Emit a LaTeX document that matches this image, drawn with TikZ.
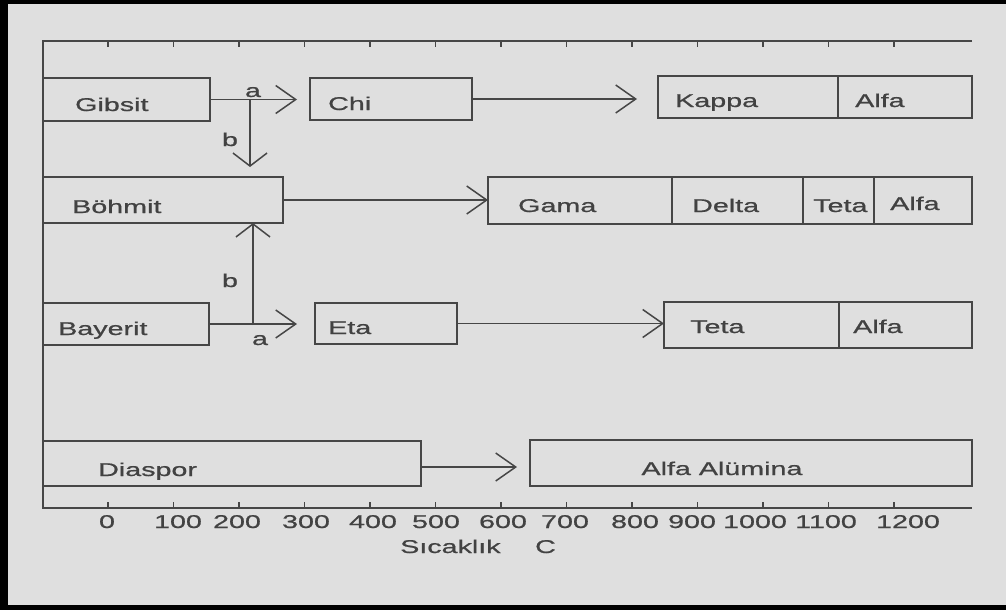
\documentclass[tikz,border=0pt]{standalone}
\usepackage{fontspec}
\newfontfamily\lab[FakeStretch=1.55,FakeBold=0.8]{Liberation Sans}
\usetikzlibrary{arrows.meta,fit,calc}
\definecolor{bg}{RGB}{223,223,223}
\definecolor{ink}{RGB}{66,66,66}
\definecolor{ln}{RGB}{70,70,70}
\begin{document}
\begin{tikzpicture}[x=1pt,y=-1pt,
  box/.style={draw=ln, line width=1.8pt, inner sep=0pt, outer sep=0pt},
  txt/.style={font=\lab\fontsize{18.5}{22}\selectfont, text=ink, inner sep=0pt, anchor=base west},
  num/.style={font=\lab\fontsize{18.5}{22}\selectfont, text=ink, inner sep=0pt, anchor=base},
  arr/.style={draw=ln, line width=1.5pt, -{Straight Barb[length=20pt,width=28pt,line width=1.5pt]}},
  varr/.style={draw=ln, line width=1.5pt, -{Straight Barb[length=13pt,width=34pt,line width=1.5pt]}},
  axisline/.style={draw=ln, line width=1.7pt},
  tick/.style={draw=ln, line width=1.4pt}]
\useasboundingbox (0,0) rectangle (1006,610);
% paper and scan frame
\fill[bg] (0,0) rectangle (1006,610);
\fill[black] (0,0) rectangle (1006,4);
\fill[black] (0,0) rectangle (8,610);
\fill[black] (0,605) rectangle (1006,610);
% axes
\draw[axisline] (972,41) -- (43,41) -- (43,508) -- (972,508);
\foreach \i in {0,...,12}{
  \draw[tick] ({108+65.5*\i},41) -- ++(0,6);
  \draw[tick] ({108+65.5*\i},508) -- ++(0,-6);
}
% boxes
\node[box, fit={(43,78) (210,121)}] (gibsit) {};
\node[box, fit={(310,78) (472,120)}] (chi) {};
\node[box, fit={(658,76) (838,118)}] (kappa) {};
\node[box, fit={(838,76) (972,118)}] (alfa1) {};
\node[box, fit={(43,177) (283,223)}] (bohmit) {};
\node[box, fit={(488,177) (672,224)}] (gama) {};
\node[box, fit={(672,177) (803,224)}] (delta) {};
\node[box, fit={(803,177) (874,224)}] (teta1) {};
\node[box, fit={(874,177) (972,224)}] (alfa2) {};
\node[box, fit={(43,303) (209,345)}] (bayerit) {};
\node[box, fit={(315,303) (457,344)}] (eta) {};
\node[box, fit={(664,302) (839,348)}] (teta2) {};
\node[box, fit={(839,302) (972,348)}] (alfa3) {};
\node[box, fit={(43,441) (421,486)}] (diaspor) {};
\node[box, fit={(530,440) (972,486)}] (alumina) {};
% box texts
\node[txt] (tgibsit) at (75,111) {Gibsit};
\node[txt] (tchi) at (328,110) {Chi};
\node[txt] (tkappa) at (675,107) {Kappa};
\node[txt] (talfa1) at (855,107) {Alfa};
\node[txt] (tbohmit) at (72,213) {Böhmit};
\node[txt] (tgama) at (518,212) {Gama};
\node[txt] (tdelta) at (692,212) {Delta};
\node[txt] (tteta1) at (813,212) {Teta};
\node[txt] (talfa2) at (890,210) {Alfa};
\node[txt] (tbayerit) at (58,335) {Bayerit};
\node[txt] (teta) at (328,334) {Eta};
\node[txt] (tteta2) at (690,333) {Teta};
\node[txt] (talfa3) at (853,333) {Alfa};
\node[txt] (tdiaspor) at (98,476) {Diaspor};
\node[num] (talumina) at (722,475) {Alfa Alümina};
% connectors
\coordinate (ga) at (250,99);
\coordinate (bb) at (253,325);
\draw[arr, shorten >=13pt] (gibsit.east) -- (gibsit.east -| chi.west);
\draw[varr, shorten >=10pt] (ga) -- (ga |- bohmit.north);
\draw[arr, shorten >=21pt] (chi.east) -- (chi.east -| kappa.west);
\draw[arr] (bohmit.east) -- (bohmit.east -| gama.west);
\draw[varr] (bb) -- (bb |- bohmit.south);
\draw[arr, shorten >=18pt] (bayerit.east) -- (bayerit.east -| eta.west);
\draw[arr] (eta.east) -- (eta.east -| teta2.west);
\draw[arr, shorten >=13pt] ([yshift=-3.5pt]diaspor.east) -- ([yshift=-3.5pt]diaspor.east -| alumina.west);
% connector labels
\node[num] (la1) at (253,97) {a};
\node[num] (lb1) at (230,146) {b};
\node[num] (lb2) at (230,287) {b};
\node[num] (la2) at (260,345) {a};
% axis labels
\foreach \v/\x in {0/107,100/178,200/237,300/306,400/373,500/436,600/503,700/565,800/635,900/692,1000/755,1100/826,1200/908}{
  \node[num] (n\v) at (\x,528) {\v};
}
\node[txt] (xlabel) at (400,553) {Sıcaklık};
\node[txt] (xunit) at (535,553) {C};
\end{tikzpicture}
\end{document}
